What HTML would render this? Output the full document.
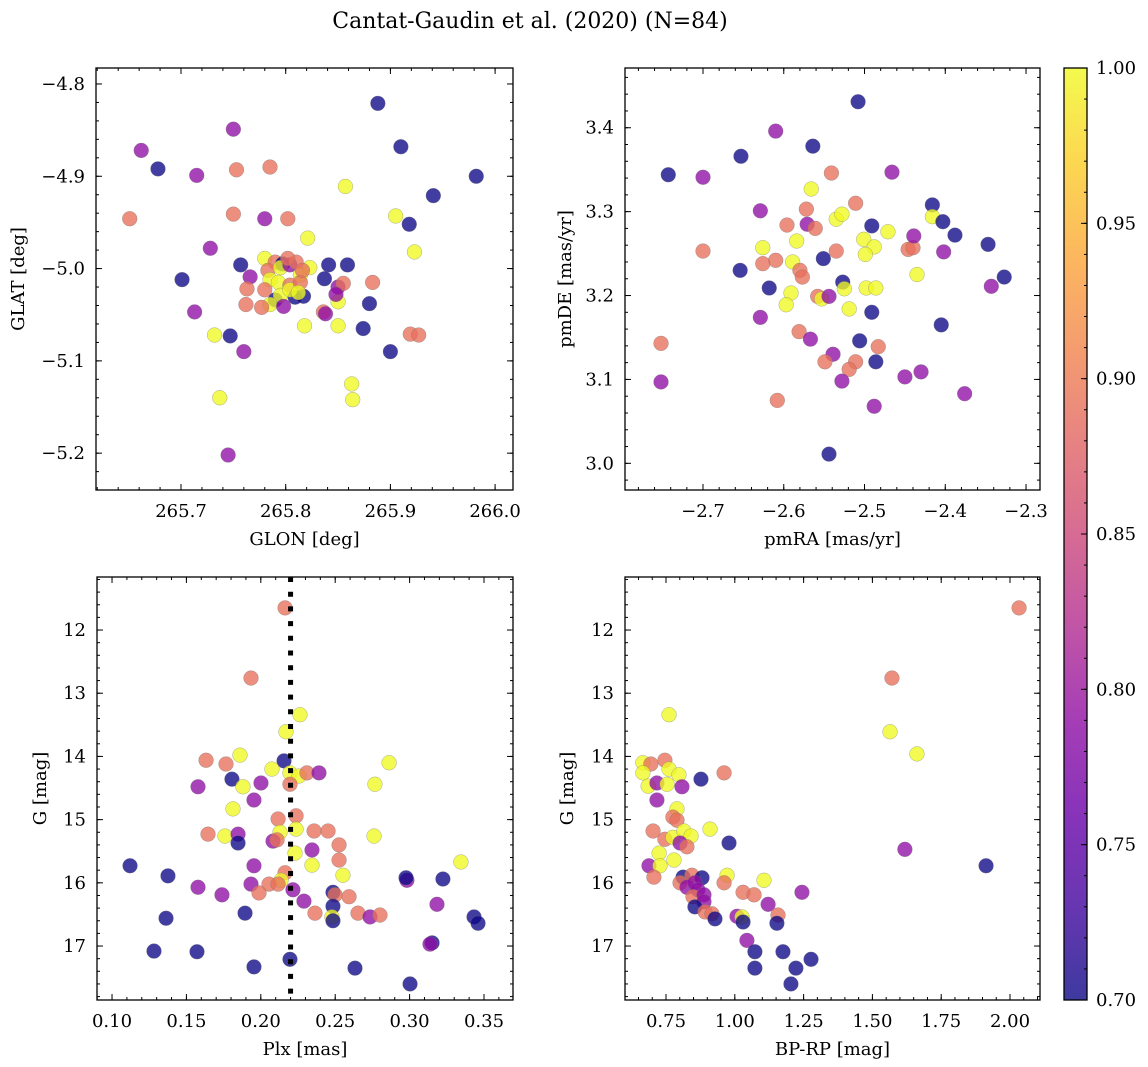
<!DOCTYPE html>
<html><head><meta charset="utf-8">
<style>
html,body{margin:0;padding:0;background:#fff;}
svg{display:block;font-family:"DejaVu Serif","Liberation Serif",serif;}
</style></head>
<body>
<svg id="fig" width="1148" height="1067" viewBox="0 0 1148 1067" xmlns="http://www.w3.org/2000/svg">
<text x="530" y="28" font-size="22" text-anchor="middle">Cantat-Gaudin et al. (2020) (N=84)</text>
<defs>
<linearGradient id="plasma" x1="0" y1="1" x2="0" y2="0">
<stop offset="0" stop-color="#0d0887"/><stop offset="0.1" stop-color="#41049d"/><stop offset="0.2" stop-color="#6a00a8"/><stop offset="0.3" stop-color="#8f0da4"/><stop offset="0.4" stop-color="#b12a90"/><stop offset="0.5" stop-color="#cc4778"/><stop offset="0.6" stop-color="#e16462"/><stop offset="0.7" stop-color="#f2844b"/><stop offset="0.8" stop-color="#fca636"/><stop offset="0.9" stop-color="#fcce25"/><stop offset="1" stop-color="#f0f921"/>
</linearGradient>
</defs>
<g id="colorbar">
<rect x="1064" y="68" width="23" height="932" fill="url(#plasma)" opacity="0.8"/>
</g>
</svg>
<script>
// ---- data ----
const p1Glon=[265.888,265.910,265.982,265.941,265.918,265.905,265.923,265.857,265.750,265.662,265.678,265.715,265.753,265.785,265.651,265.750,265.780,265.802,265.728,265.701,265.713,265.757,265.766,265.763,265.762,265.732,265.747,265.760,265.737,265.745,265.821,265.841,265.859,265.837,265.850,265.855,265.883,265.880,265.850,265.874,265.863,265.864,265.850,265.848,265.836,265.838,265.900,265.919,265.927,265.818,265.817,
265.780,265.790,265.797,265.783,265.795,265.804,265.810,265.785,265.793,265.804,265.814,265.780,265.790,265.795,265.809,265.804,265.814,265.785,265.777,265.798,265.823,265.816,265.802,265.812];
const p1Glat=[-4.821,-4.868,-4.900,-4.921,-4.952,-4.943,-4.982,-4.911,-4.849,-4.872,-4.892,-4.899,-4.893,-4.890,-4.946,-4.941,-4.946,-4.946,-4.978,-5.012,-5.047,-4.996,-5.009,-5.022,-5.039,-5.072,-5.073,-5.090,-5.140,-5.202,-4.967,-4.996,-4.996,-5.011,-5.020,-5.016,-5.015,-5.038,-5.062,-5.065,-5.125,-5.142,-5.036,-5.028,-5.047,-5.049,-5.090,-5.071,-5.072,-5.062,-5.030,
-4.989,-4.993,-4.995,-5.002,-4.999,-4.996,-4.993,-5.012,-5.015,-5.018,-5.007,-5.023,-5.034,-5.029,-5.031,-5.023,-5.015,-5.039,-5.042,-5.041,-4.999,-5.002,-4.989,-5.026];
const p1Prob=[0.70,0.70,0.70,0.70,0.70,1.0,1.0,1.0,0.79,0.79,0.70,0.79,0.89,0.89,0.89,0.89,0.79,0.89,0.79,0.70,0.79,0.70,0.79,0.89,0.89,1.0,0.70,0.79,1.0,0.79,1.0,0.70,0.70,0.70,0.79,0.89,0.89,0.70,1.0,0.70,1.0,1.0,1.0,0.79,0.89,0.79,0.70,0.89,0.89,1.0,0.70,
1.0,0.89,0.70,0.89,1.0,0.79,0.89,1.0,1.0,0.89,1.0,0.89,0.70,1.0,0.70,1.0,0.89,1.0,0.89,0.79,1.0,0.89,0.89,1.0];

const p2PmRA=[-2.508,-2.743,-2.653,-2.610,-2.564,-2.466,-2.700,-2.541,-2.566,-2.416,-2.511,-2.572,-2.629,-2.596,-2.571,-2.535,-2.528,-2.491,-2.561,-2.584,-2.501,-2.471,-2.416,-2.488,-2.499,-2.403,-2.388,-2.446,-2.440,-2.402,-2.439,-2.347,-2.327,-2.343,-2.700,-2.626,-2.589,-2.610,-2.626,-2.580,-2.577,-2.551,-2.535,-2.654,-2.591,-2.558,-2.553,-2.544,-2.527,-2.525,-2.519,-2.498,-2.486,-2.491,-2.435,-2.597,-2.629,-2.581,-2.567,-2.752,-2.483,-2.506,-2.539,-2.511,-2.549,-2.519,-2.486,-2.752,-2.528,-2.450,-2.430,-2.405,-2.608,-2.488,-2.376,-2.544,-2.618];
const p2PmDE=[3.431,3.344,3.366,3.396,3.378,3.347,3.341,3.346,3.327,3.308,3.310,3.303,3.301,3.284,3.285,3.291,3.297,3.283,3.280,3.265,3.267,3.276,3.294,3.258,3.249,3.288,3.272,3.255,3.257,3.252,3.271,3.261,3.222,3.211,3.253,3.257,3.240,3.242,3.238,3.230,3.222,3.244,3.253,3.230,3.203,3.199,3.196,3.199,3.216,3.208,3.184,3.209,3.209,3.180,3.225,3.189,3.174,3.157,3.148,3.143,3.139,3.146,3.130,3.121,3.121,3.112,3.121,3.097,3.098,3.103,3.109,3.165,3.075,3.068,3.083,3.011,3.209];
const p2Prob=[0.70,0.70,0.70,0.79,0.70,0.79,0.79,0.89,1.0,0.70,0.89,0.89,0.79,0.89,0.79,1.0,1.0,0.70,0.89,1.0,1.0,1.0,1.0,1.0,1.0,0.70,0.70,0.89,0.89,0.79,0.79,0.70,0.70,0.79,0.89,1.0,1.0,0.89,0.89,0.89,0.89,0.70,0.89,0.70,1.0,0.89,1.0,0.79,0.70,1.0,1.0,1.0,1.0,0.70,1.0,1.0,0.79,0.89,0.79,0.89,0.89,0.70,0.79,0.89,0.89,0.89,0.70,0.79,0.79,0.79,0.79,0.70,0.89,0.79,0.79,0.70,0.70];

const p3Plx=[0.2163,0.1934,0.2263,0.2169,0.1632,0.1766,0.1860,0.2156,0.2075,0.2196,0.2257,0.2310,0.2391,0.2862,0.2767,0.1806,0.1880,0.2001,0.1578,0.2196,0.1954,0.1813,0.2116,0.2237,0.1645,0.1759,0.1847,0.1847,0.2129,0.2237,0.2082,0.2109,0.2358,0.2452,0.2526,0.2344,0.2230,0.2761,0.2526,0.2344,0.2552,0.1954,0.2163,0.2136,0.2055,0.2116,0.1934,0.1988,0.1578,0.1739,0.2216,0.2290,0.2485,0.2499,0.2593,0.2485,0.2478,0.2485,0.2364,0.2653,0.2734,0.2801,0.1894,0.2982,0.2976,0.1571,0.1954,0.2196,0.2633,0.1121,0.1376,0.1363,0.1282,0.3003,0.3151,0.3137,0.3184,0.3224,0.3345,0.3433,0.3460];
const p3G=[11.65,12.76,13.34,13.61,14.06,14.12,13.98,14.07,14.20,14.26,14.31,14.26,14.26,14.10,14.44,14.36,14.48,14.42,14.48,14.44,14.69,14.83,14.99,14.94,15.23,15.26,15.23,15.37,15.20,15.15,15.34,15.32,15.18,15.18,15.40,15.48,15.53,15.26,15.64,15.72,15.88,15.73,15.84,15.96,16.02,16.02,16.02,16.16,16.07,16.19,16.11,16.29,16.15,16.19,16.22,16.37,16.54,16.60,16.48,16.48,16.54,16.51,16.48,15.96,15.92,17.09,17.33,17.21,17.35,15.73,15.89,16.56,17.08,17.60,16.95,16.97,16.34,15.94,15.67,16.54,16.64];
const p3Prob=[0.89,0.89,1.0,1.0,0.89,0.89,1.0,0.70,1.0,1.0,1.0,0.89,0.79,1.0,1.0,0.70,1.0,0.79,0.79,0.89,0.79,1.0,0.89,0.89,0.89,1.0,0.79,0.70,1.0,1.0,0.79,0.89,0.89,0.89,0.89,0.79,1.0,1.0,0.89,1.0,1.0,0.79,0.89,1.0,0.89,0.89,0.79,0.89,0.79,0.79,0.79,0.79,0.70,0.89,0.89,0.70,1.0,0.70,0.89,0.89,0.79,0.89,0.70,0.79,0.70,0.70,0.70,0.70,0.70,0.70,0.70,0.70,0.70,0.70,0.70,0.79,0.79,0.70,1.0,0.70,0.70];

const p4BpRp=[0.666,0.695,0.666,0.685,0.717,0.746,0.761,0.797,0.754,0.808,0.877,0.961,0.717,0.790,0.775,0.790,0.703,0.746,0.775,0.815,0.841,0.801,0.826,0.910,0.979,0.725,0.779,0.688,0.728,0.706,0.812,0.844,0.881,0.801,0.826,0.855,0.866,0.848,0.888,0.888,0.855,0.972,0.961,1.030,1.070,1.106,1.121,1.244,0.892,0.917,0.928,1.008,1.026,1.030,1.157,1.153,1.044,1.571,2.033,0.761,1.564,1.662,1.618,1.913,1.073,1.073,1.175,1.222,1.277,1.204];
const p4G=[14.10,14.12,14.26,14.47,14.42,14.06,14.20,14.29,14.44,14.48,14.36,14.26,14.69,14.83,14.96,15.01,15.18,15.31,15.28,15.18,15.26,15.37,15.43,15.15,15.37,15.53,15.64,15.73,15.73,15.91,15.91,15.88,15.92,16.00,16.07,16.00,16.11,16.22,16.19,16.30,16.38,15.88,16.00,16.15,16.19,15.96,16.34,16.15,16.46,16.49,16.57,16.53,16.54,16.62,16.51,16.64,16.91,12.76,11.65,13.34,13.61,13.96,15.47,15.73,17.09,17.35,17.09,17.35,17.21,17.60];
const p4Prob=[1.0,0.89,1.0,1.0,0.79,0.89,1.0,1.0,1.0,0.79,0.70,0.89,0.79,1.0,0.89,0.89,0.89,0.89,1.0,1.0,1.0,0.79,0.89,1.0,0.70,1.0,1.0,0.79,1.0,0.89,0.70,0.89,0.70,0.89,0.79,0.79,0.79,0.89,0.79,0.79,0.70,1.0,0.89,0.89,0.89,1.0,0.79,0.79,0.89,0.89,0.70,0.79,1.0,0.70,0.89,0.70,0.79,0.89,0.89,1.0,1.0,1.0,0.79,0.70,0.70,0.70,0.70,0.70,0.70,0.70];

const plxCut=[0.22];

const p1XTicks=[265.7,265.8,265.9,266.0], p1YTicks=[-4.8,-4.9,-5.0,-5.1,-5.2];
const p2XTicks=[-2.7,-2.6,-2.5,-2.4,-2.3], p2YTicks=[3.0,3.1,3.2,3.3,3.4];
const p3XTicks=[0.10,0.15,0.20,0.25,0.30,0.35], gTicks=[12,13,14,15,16,17];
const p4XTicks=[0.75,1.00,1.25,1.50,1.75,2.00];
const cbTicks=[0.70,0.75,0.80,0.85,0.90,0.95,1.00];

// ---- drawing ----
const NS="http://www.w3.org/2000/svg";
const svg=document.getElementById('fig');
const FS=18;
function mk(tag,attrs,parent){const e=document.createElementNS(NS,tag);for(const k in attrs)e.setAttribute(k,attrs[k]);(parent||svg).appendChild(e);return e;}
const stops=[[13,8,135],[65,4,157],[106,0,168],[143,13,164],[177,42,144],[204,71,120],[225,100,98],[242,132,75],[252,166,54],[252,206,37],[240,249,33]];
function plasma(t){t=Math.max(0,Math.min(1,t));const f=t*10,i=Math.min(9,Math.floor(f)),r=f-i;const a=stops[i],b=stops[i+1];return 'rgb('+a.map((v,k)=>Math.round(v+(b[k]-v)*r)).join(',')+')';}
function fmt(v,d){const s=v.toFixed(d);return s.replace('-','\u2212');}

function panel(cfg){
  const g=mk('g',{});
  
  
  const [L,T,R,B]=cfg.box;
  const xs=v=>L+(v-cfg.xlim[0])/(cfg.xlim[1]-cfg.xlim[0])*(R-L);
  const ys=v=>T+(v-cfg.ylim[0])/(cfg.ylim[1]-cfg.ylim[0])*(B-T);
  const clipId='clip-'+cfg.name;
  const cp=mk('clipPath',{id:clipId},g);mk('rect',{x:L,y:T,width:R-L,height:B-T},cp);
  const pts=mk('g',{'clip-path':'url(#'+clipId+')'},g);
  
  
  for(let i=0;i<cfg.x.length;i++){
    const c=mk('circle',{cx:xs(cfg.x[i]),cy:ys(cfg.y[i]),r:7.4,fill:plasma((cfg.p[i]-0.7)/0.3),'fill-opacity':0.78,stroke:'#777','stroke-width':0.5,'stroke-opacity':0.6},pts);
    
    
  }
  if(cfg.vline){cfg.vline.forEach(v=>{const l=mk('line',{x1:xs(v),x2:xs(v),y1:T,y2:B,stroke:'#000','stroke-width':5,'stroke-dasharray':'5 9.7'},g);
    
    });}
  const frame=mk('rect',{x:L,y:T,width:R-L,height:B-T,fill:'none',stroke:'#000','stroke-width':1.3},g);
  
  
  const [x0,x1]=[Math.min(...cfg.xlim),Math.max(...cfg.xlim)];
  const [y0,y1]=[Math.min(...cfg.ylim),Math.max(...cfg.ylim)];
  const tk=mk('g',{stroke:'#000','stroke-width':1},g);
  for(let v=Math.ceil(x0/cfg.xminor-1e-6)*cfg.xminor;v<=x1;v+=cfg.xminor){const x=xs(v);mk('line',{x1:x,x2:x,y1:B,y2:B-3},tk);mk('line',{x1:x,x2:x,y1:T,y2:T+3},tk);}
  for(let v=Math.ceil(y0/cfg.yminor-1e-6)*cfg.yminor;v<=y1;v+=cfg.yminor){const y=ys(v);mk('line',{x1:L,x2:L+3,y1:y,y2:y},tk);mk('line',{x1:R,x2:R-3,y1:y,y2:y},tk);}
  cfg.xt.forEach(v=>{const x=xs(v);mk('line',{x1:x,x2:x,y1:B,y2:B-6},tk);mk('line',{x1:x,x2:x,y1:T,y2:T+6},tk);
    const t=mk('text',{x:x,y:B+27,'font-size':FS,'text-anchor':'middle'},g);t.textContent=fmt(v,cfg.xd);
    });
  cfg.yt.forEach(v=>{const y=ys(v);mk('line',{x1:L,x2:L+6,y1:y,y2:y},tk);mk('line',{x1:R,x2:R-6,y1:y,y2:y},tk);
    const t=mk('text',{x:L-11,y:y+6,'font-size':FS,'text-anchor':'end'},g);t.textContent=fmt(v,cfg.yd);
    });
  const xl=mk('text',{x:(L+R)/2,y:B+55,'font-size':FS,'text-anchor':'middle'},g);xl.textContent=cfg.xlabel;
  
  const yl=mk('text',{x:cfg.ylx,y:(T+B)/2,'font-size':FS,'text-anchor':'middle',transform:'rotate(-90 '+cfg.ylx+' '+(T+B)/2+')'},g);yl.textContent=cfg.ylabel;
  
}

panel({name:'glon-glat-panel',box:[96,68,513,490],xlim:[265.6188,266.0171],ylim:[-4.7827,-5.2399],x:p1Glon,y:p1Glat,p:p1Prob,xt:p1XTicks,yt:p1YTicks,xd:1,yd:1,xminor:0.02,yminor:0.02,xlabel:'GLON [deg]',ylabel:'GLAT [deg]',ylx:24});
panel({name:'proper-motion-panel',box:[625,68,1040,490],xlim:[-2.7966,-2.2827],ylim:[3.4712,2.9682],x:p2PmRA,y:p2PmDE,p:p2Prob,xt:p2XTicks,yt:p2YTicks,xd:1,yd:1,xminor:0.02,yminor:0.02,xlabel:'pmRA [mas/yr]',ylabel:'pmDE [mas/yr]',ylx:571});
panel({name:'parallax-mag-panel',box:[97,577,513,1000],xlim:[0.0899,0.3695],ylim:[11.161,17.854],x:p3Plx,y:p3G,p:p3Prob,xt:p3XTicks,yt:gTicks,xd:2,yd:0,xminor:0.01,yminor:0.2,xlabel:'Plx [mas]',ylabel:'G [mag]',ylx:46,vline:plxCut});
panel({name:'cmd-panel',box:[625,577,1040,1000],xlim:[0.601,2.109],ylim:[11.161,17.854],x:p4BpRp,y:p4G,p:p4Prob,xt:p4XTicks,yt:gTicks,xd:2,yd:0,xminor:0.05,yminor:0.2,xlabel:'BP-RP [mag]',ylabel:'G [mag]',ylx:573});

// colorbar
const cb=document.getElementById('colorbar');
const cbY=v=>1000-(v-0.70)/0.30*932;
mk('rect',{x:1064,y:68,width:23,height:932,fill:'none',stroke:'#000','stroke-width':1.3},cb);
for(let v=0.70;v<=1.0001;v+=0.01){const y=cbY(v);mk('line',{x1:1087,x2:1084,y1:y,y2:y,stroke:'#000','stroke-width':1},cb);}
cbTicks.forEach(v=>{const y=cbY(v);mk('line',{x1:1087,x2:1081,y1:y,y2:y,stroke:'#000','stroke-width':1},cb);
  const t=mk('text',{x:1096,y:y+6,'font-size':FS},cb);t.textContent=v.toFixed(2);
  });
</script>
</body></html>
